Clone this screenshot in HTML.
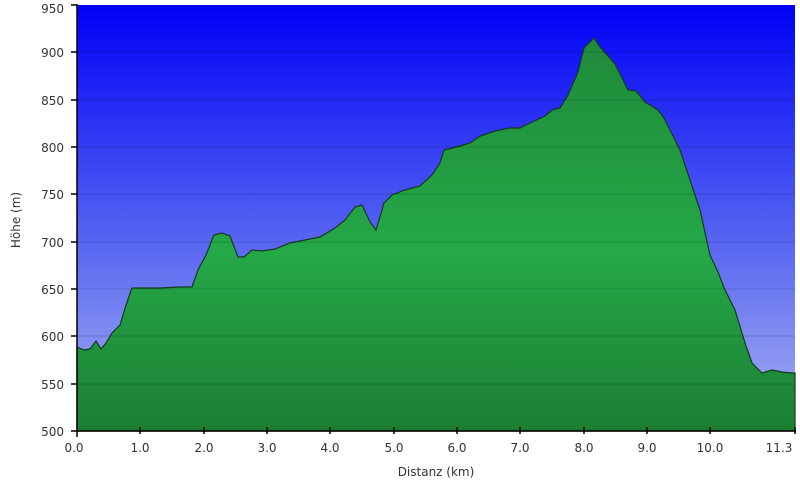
<!DOCTYPE html>
<html><head><meta charset="utf-8"><style>body{margin:0;background:#fff}svg{display:block}</style></head><body>
<svg width="800" height="487" viewBox="0 0 800 487" font-family="DejaVu Sans, Liberation Sans, sans-serif">
<defs>
<linearGradient id="sky" x1="0" y1="0" x2="0" y2="1"><stop offset="0" stop-color="#0000f6"/><stop offset="0.5" stop-color="#4e5cf2"/><stop offset="1" stop-color="#a8b2f0"/></linearGradient>
<linearGradient id="gr" x1="0" y1="0" x2="0" y2="1"><stop offset="0" stop-color="#1f8a3a"/><stop offset="0.55" stop-color="#25a848"/><stop offset="1" stop-color="#1c7e33"/></linearGradient>
</defs>
<rect x="77" y="5" width="718" height="426" fill="url(#sky)"/>
<path fill="url(#gr)" stroke="#123a1e" stroke-width="1.2" d="M77,347 L84,350 L90,349 L96,341 L101,349 L106,343 L112,333 L120,325 L126,305 L132,288 L140,288 L160,288 L180,287 L192,287 L198,270 L206,255 L214,235 L222,233 L230,236 L238,257 L244,257 L252,250 L262,251 L275,249 L290,243 L305,240 L320,237 L335,228 L345,220 L355,207 L362,205 L370,222 L376,230 L384,203 L392,195 L405,190 L420,186 L432,175 L440,163 L444,150 L460,146 L470,143 L480,136 L495,131 L510,128 L520,128 L530,123 L545,116 L552,110 L560,108 L568,95 L578,72 L584,48 L590,42 L594,38 L600,47 L615,64 L628,90 L636,91 L645,102 L658,110 L664,118 L670,130 L680,150 L690,180 L700,210 L710,255 L718,272 L725,290 L735,310 L745,343 L752,363 L762,373 L772,370 L782,372 L792,373 L795,373 L795,431 L77,431 Z"/>
<g stroke="#000" stroke-opacity="0.15" stroke-width="1">
<line x1="77" y1="52" x2="795" y2="52"/><line x1="77" y1="100" x2="795" y2="100"/><line x1="77" y1="147" x2="795" y2="147"/><line x1="77" y1="194" x2="795" y2="194"/><line x1="77" y1="242" x2="795" y2="242"/><line x1="77" y1="289" x2="795" y2="289"/><line x1="77" y1="336" x2="795" y2="336"/><line x1="77" y1="384" x2="795" y2="384"/>
</g>
<g stroke="#000" stroke-width="1.5">
<line x1="77" y1="4" x2="77" y2="432"/><line x1="77" y1="431" x2="796" y2="431"/>
<line x1="71" y1="5" x2="77" y2="5"/><line x1="71" y1="52" x2="77" y2="52"/><line x1="71" y1="100" x2="77" y2="100"/><line x1="71" y1="147" x2="77" y2="147"/><line x1="71" y1="194" x2="77" y2="194"/><line x1="71" y1="242" x2="77" y2="242"/><line x1="71" y1="289" x2="77" y2="289"/><line x1="71" y1="336" x2="77" y2="336"/><line x1="71" y1="384" x2="77" y2="384"/><line x1="71" y1="431" x2="77" y2="431"/>
<line x1="77" y1="431" x2="77" y2="437"/><line x1="140" y1="427" x2="140" y2="434"/><line x1="204" y1="427" x2="204" y2="434"/><line x1="267" y1="427" x2="267" y2="434"/><line x1="330" y1="427" x2="330" y2="434"/><line x1="394" y1="427" x2="394" y2="434"/><line x1="457" y1="427" x2="457" y2="434"/><line x1="520" y1="427" x2="520" y2="434"/><line x1="584" y1="427" x2="584" y2="434"/><line x1="647" y1="427" x2="647" y2="434"/><line x1="710" y1="427" x2="710" y2="434"/><line x1="795" y1="427" x2="795" y2="434"/>
</g>
<g font-size="12" fill="#333" text-anchor="end">
<text x="64" y="13">950</text><text x="64" y="57">900</text><text x="64" y="105">850</text><text x="64" y="152">800</text><text x="64" y="199">750</text><text x="64" y="247">700</text><text x="64" y="294">650</text><text x="64" y="341">600</text><text x="64" y="389">550</text><text x="64" y="436">500</text>
</g>
<g font-size="12" fill="#333" text-anchor="middle">
<text x="74" y="452">0.0</text><text x="140" y="452">1.0</text><text x="204" y="452">2.0</text><text x="267" y="452">3.0</text><text x="330" y="452">4.0</text><text x="394" y="452">5.0</text><text x="457" y="452">6.0</text><text x="520" y="452">7.0</text><text x="584" y="452">8.0</text><text x="647" y="452">9.0</text><text x="710" y="452">10.0</text><text x="779" y="452">11.3</text>
<text x="436" y="476">Distanz   (km)</text>
<text transform="translate(20,220) rotate(-90)" font-size="12">Höhe (m)</text>
</g>
</svg>
</body></html>
